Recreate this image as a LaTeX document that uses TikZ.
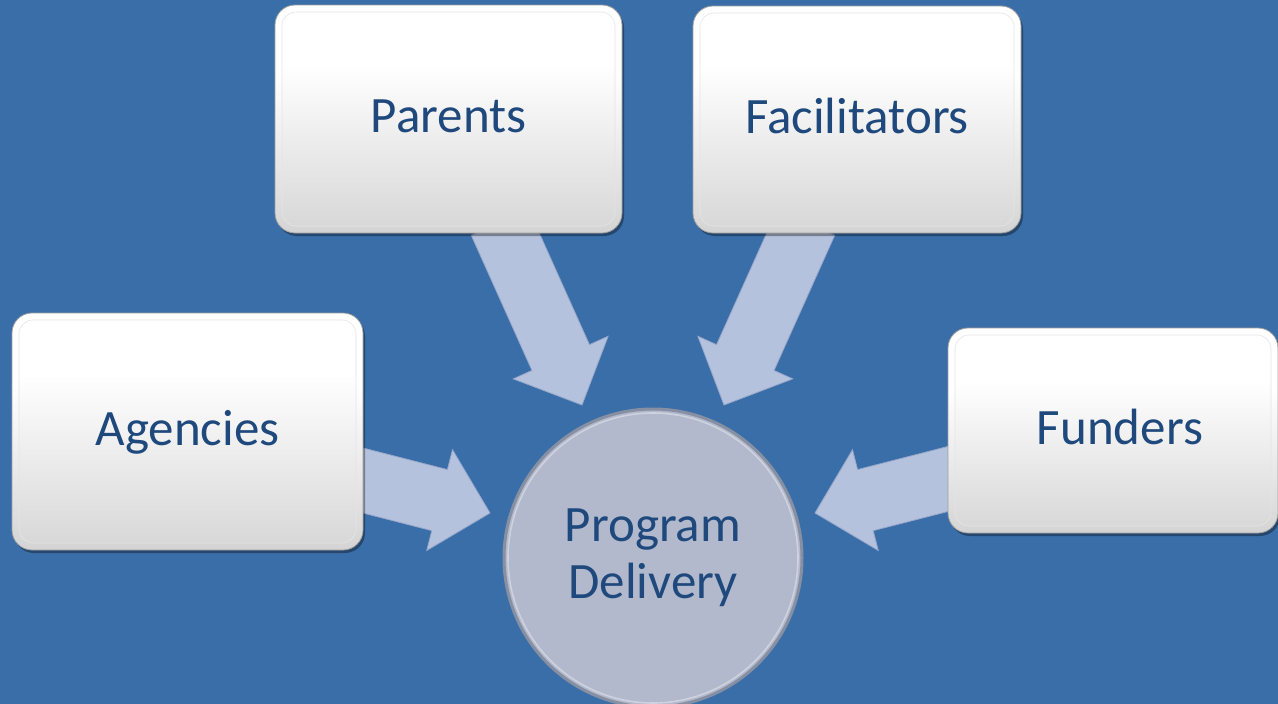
\documentclass[tikz,border=0pt]{standalone}
\usepackage{fontspec}
\setmainfont{Carlito}
\usetikzlibrary{calc,shadows}
\definecolor{bgblue}{RGB}{58,110,169}
\definecolor{arrowfill}{RGB}{180,194,222}
\definecolor{arrowedge}{RGB}{150,166,200}
\definecolor{txtblue}{RGB}{31,73,125}
\definecolor{circfill}{RGB}{178,185,204}
\definecolor{circrim}{RGB}{135,143,163}
\definecolor{circlight}{RGB}{205,210,222}
\pgfdeclarelayer{back}
\pgfdeclarelayer{mid}
\pgfsetlayers{back,mid,main}
\pgfdeclareverticalshading{boxface}{100bp}{color(0bp)=(black!19); color(25bp)=(black!16); color(62bp)=(white); color(100bp)=(white)}
\pgfdeclareverticalshading{boxrim}{100bp}{color(0bp)=(black!32); color(30bp)=(black!14); color(60bp)=(white); color(100bp)=(white)}
\tikzset{
  lbl/.style={text=txtblue, font=\fontsize{51}{57}\selectfont},
  stakebox/.style={lbl, rounded corners=20pt, inner sep=0pt, shading=boxrim,
    draw=black!38, line width=0.8pt, text height=33pt, text depth=6pt,
    drop shadow={shadow xshift=2pt, shadow yshift=-3pt, opacity=0.35, fill=black},
    path picture={\shade[shading=boxface, rounded corners=14pt, draw=black!10, line width=0.6pt]
      ($(path picture bounding box.north west)+(7,7)$) rectangle
      ($(path picture bounding box.south east)+(-7,-7)$);}},
  hub/.style={lbl, circle, minimum size=298pt, inner sep=0pt, fill=circfill,
    draw=circrim, line width=3pt, align=center,
    path picture={\draw[circlight, line width=1.6pt]
      (path picture bounding box.center) circle (145pt);}},
  arrowbody/.style={fill=arrowfill, draw=arrowedge, line width=0.8pt, line join=miter}
}
\newcommand{\blockarrow}[2]{%
  \coordinate (#1-#2-h) at ($(#2)!52pt!(#1)$);
  \draw[arrowbody] ($(#1)!31.5pt!90:(#2)$) -- ($(#1-#2-h)!31.5pt!90:(#2)$)
    -- ($(#1-#2-h)!52pt!90:(#2)$) -- (#2) -- ($(#1-#2-h)!52pt!-90:(#2)$)
    -- ($(#1-#2-h)!31.5pt!-90:(#2)$) -- ($(#1)!31.5pt!-90:(#2)$) -- cycle;}
\begin{document}
\begin{tikzpicture}[x=1pt, y=-1pt]
\useasboundingbox (0,0) rectangle (1278,704);
\begin{pgfonlayer}{back}
  \fill[bgblue] (0,0) rectangle (1278,704);
\end{pgfonlayer}

% boxes
\node[stakebox, minimum width=347pt, minimum height=228pt] (parents) at (448.5,119) {Parents};
\node[stakebox, minimum width=328pt, minimum height=227pt] (facil) at (857,119.5) {Facilitators};
\node[stakebox, minimum width=351pt, minimum height=237pt] (agencies) at (187.5,431.5) {Agencies};
\node[stakebox, minimum width=330pt, minimum height=205pt] (funders) at (1113,430.5) {\hspace*{14pt}Funders};

% centre
\node[hub] (prog) at (653,558) {Program\\Delivery};

% arrow ends
\coordinate (pa) at ($(parents.south)+(51.5,-11)$);
\coordinate (pat) at (582,405);
\coordinate (fa) at ($(facil.south)+(-51,-11)$);
\coordinate (fat) at (724,405);
\coordinate (ag) at ($(agencies.east)+(-18,44.5)$);
\coordinate (agt) at (490,513);
\coordinate (fu) at ($(funders.west)+(12,45.5)$);
\coordinate (fut) at (815,513);

\begin{pgfonlayer}{mid}
  \blockarrow{pa}{pat}
  \blockarrow{fa}{fat}
  \blockarrow{ag}{agt}
  \blockarrow{fu}{fut}
\end{pgfonlayer}
\end{tikzpicture}
\end{document}
